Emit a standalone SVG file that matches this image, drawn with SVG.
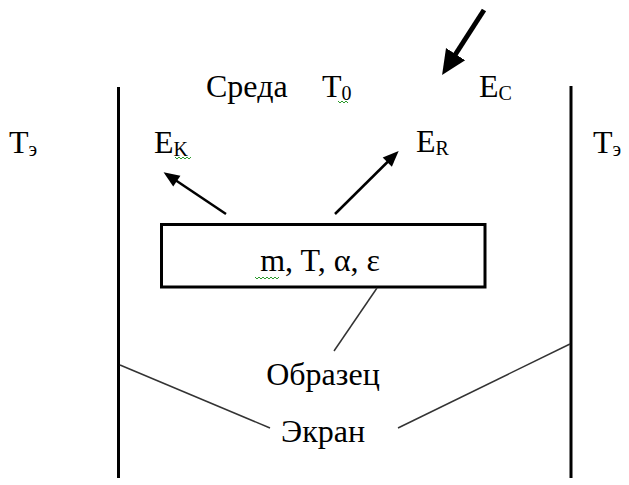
<svg xmlns="http://www.w3.org/2000/svg" width="629" height="485" viewBox="0 0 629 485">
<defs>
<style>
.lbl{font-family:'Liberation Serif','Times New Roman',serif;font-size:32px;fill:#000}
.s{font-size:20px}
.ln{stroke:#000;fill:none}
.thin{stroke:#333;stroke-width:1.5;fill:none}
.wave{stroke:#2a9a2a;stroke-width:1;fill:none}
</style>
<marker id="hThin" markerUnits="userSpaceOnUse" markerWidth="20" markerHeight="16" viewBox="0 -8 17 16" refX="1" refY="0" orient="auto"><path d="M0,-6.5 L16,0 L0,6.5 z" fill="#000"/></marker>
<marker id="hThick" markerUnits="userSpaceOnUse" markerWidth="26" markerHeight="26" viewBox="0 -12 24 24" refX="1" refY="0" orient="auto"><path d="M0,-10.5 L23,0 L0,10.5 z" fill="#000"/></marker>
</defs>
<rect width="629" height="485" fill="#fff"/>
<g id="screen-left"><line class="ln" x1="118.5" y1="87" x2="118.5" y2="478" stroke-width="3"/></g>
<g id="screen-right"><line class="ln" x1="571" y1="86" x2="571" y2="478" stroke-width="3"/></g>
<g id="labels" class="lbl">
<text x="9" y="153">Т<tspan class="s" dy="3">э</tspan></text>
<text x="593" y="153">Т<tspan class="s" dy="3">э</tspan></text>
<text x="206" y="97">Среда</text>
<text x="322" y="97">Т<tspan class="s" dy="3">0</tspan></text>
<text x="479" y="97">E<tspan class="s" dy="3">C</tspan></text>
<text x="154" y="153">E<tspan class="s" dy="3">K</tspan></text>
<text x="416" y="152">E<tspan class="s" dy="3">R</tspan></text>
<text x="323" y="442" text-anchor="middle">Экран</text>
<text x="323" y="385" text-anchor="middle">Образец</text>
<path class="wave" d="M338,101 l2,2 l2,-2 l2,2 l2,-2 l2,2"/>
<path class="wave" d="M175,157 l2,2 l2,-2 l2,2 l2,-2 l2,2 l2,-2 l2,2 l2,-2"/>
</g>
<g id="sample" class="lbl">
<rect x="161.5" y="224.5" width="323.5" height="62.5" fill="#fff" stroke="#000" stroke-width="3"/>
<text x="320" y="271" text-anchor="middle">m, T, α, ε</text>
<path class="wave" d="M255,277 l2,2 l2,-2 l2,2 l2,-2 l2,2 l2,-2 l2,2 l2,-2 l2,2 l2,-2 l2,2 l2,-2"/>
</g>
<g id="connectors">
<line class="ln" x1="484" y1="10" x2="455" y2="55" stroke-width="5" marker-end="url(#hThick)"/>
<line class="ln" x1="226" y1="214" x2="176" y2="180.5" stroke-width="2.5" marker-end="url(#hThin)"/>
<line class="ln" x1="335" y1="214" x2="388" y2="161.5" stroke-width="2.5" marker-end="url(#hThin)"/>
<line class="thin" x1="377" y1="288" x2="334" y2="351"/>
<line class="thin" x1="120" y1="365" x2="270" y2="428"/>
<line class="thin" x1="398" y1="428" x2="570" y2="344"/>
</g>
</svg>
